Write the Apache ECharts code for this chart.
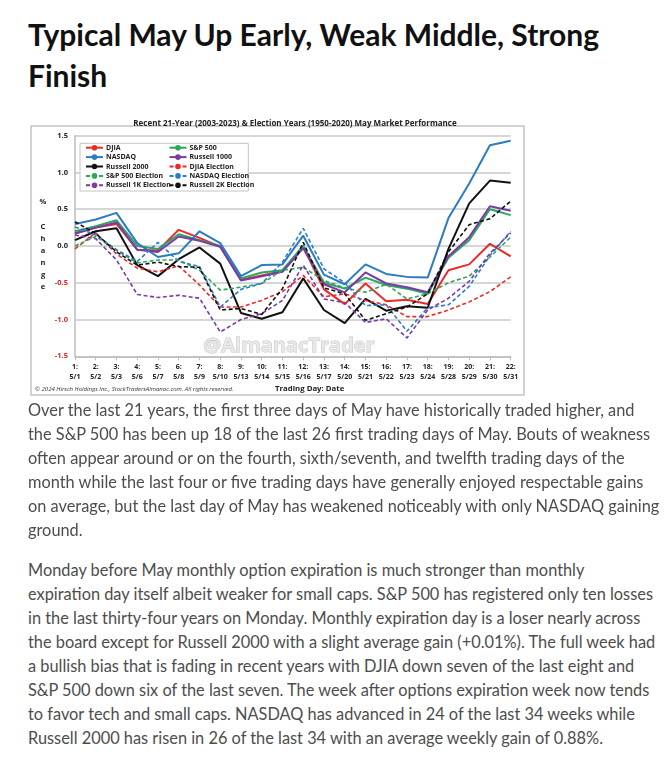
<!DOCTYPE html>
<html>
<head>
<meta charset="utf-8">
<script src="https://cdn.jsdelivr.net/npm/echarts@6/dist/echarts.min.js"></script>
<style>
  html, body { margin: 0; padding: 0; background: #fff; width: 665px; height: 760px; overflow: hidden; }
  #title { position: absolute; left: 28px; top: 14px; margin: 0; font-family: Lato, sans-serif; font-weight: 700; font-size: 30px; line-height: 41px; color: #111; white-space: nowrap; }
  .para { position: absolute; left: 28px; margin: 0; font-family: Lato, sans-serif; font-size: 16.35px; line-height: 24px; color: #4d4d4d; white-space: nowrap; }
  #chart { position: absolute; left: 0; top: 100px; width: 540px; height: 300px; }
</style>
</head>
<body>
<h1 id="title">Typical May Up Early, Weak Middle, Strong<br>Finish</h1>
<div id="chart"></div>
<p class="para" style="top:398px">Over the last 21 years, the first three days of May have historically traded higher, and<br>the S&amp;P 500 has been up 18 of the last 26 first trading days of May. Bouts of weakness<br>often appear around or on the fourth, sixth/seventh, and twelfth trading days of the<br>month while the last four or five trading days have generally enjoyed respectable gains<br>on average, but the last day of May has weakened noticeably with only NASDAQ gaining<br>ground.</p>
<p class="para" style="top:558px">Monday before May monthly option expiration is much stronger than monthly<br>expiration day itself albeit weaker for small caps. S&amp;P 500 has registered only ten losses<br>in the last thirty-four years on Monday. Monthly expiration day is a loser nearly across<br>the board except for Russell 2000 with a slight average gain (+0.01%). The full week had<br>a bullish bias that is fading in recent years with DJIA down seven of the last eight and<br>S&amp;P 500 down six of the last seven. The week after options expiration week now tends<br>to favor tech and small caps. NASDAQ has advanced in 24 of the last 34 weeks while<br>Russell 2000 has risen in 26 of the last 34 with an average weekly gain of 0.88%.</p>
<script>
const dayNums = [1,2,3,4,5,6,7,8,9,10,11,12,13,14,15,16,17,18,19,20,21,22];
const dayDates = ['5/1','5/2','5/3','5/6','5/7','5/8','5/9','5/10','5/13','5/14','5/15','5/16','5/17','5/20','5/21','5/22','5/23','5/24','5/28','5/29','5/30','5/31'];
const yTicks = [-1.5, -1.0, -0.5, 0.0, 0.5, 1.0, 1.5];

const djia      = [0.17, 0.25, 0.30, -0.05, -0.06, 0.22, 0.11, -0.01, -0.46, -0.40, -0.34, -0.01, -0.59, -0.79, -0.51, -0.75, -0.73, -0.79, -0.33, -0.25, 0.03, -0.14];
const sp500     = [0.20, 0.27, 0.35, 0.00, -0.04, 0.16, 0.08, 0.00, -0.44, -0.36, -0.33, 0.00, -0.50, -0.58, -0.43, -0.53, -0.58, -0.65, -0.16, 0.08, 0.50, 0.42];
const nasdaq    = [0.30, 0.36, 0.45, 0.04, -0.15, -0.10, 0.20, 0.04, -0.41, -0.26, -0.25, 0.14, -0.39, -0.52, -0.25, -0.38, -0.42, -0.43, 0.38, 0.85, 1.37, 1.43];
const russell1k = [0.17, 0.25, 0.32, -0.05, -0.08, 0.13, 0.07, -0.01, -0.47, -0.41, -0.35, -0.03, -0.52, -0.63, -0.36, -0.51, -0.56, -0.63, -0.14, 0.12, 0.54, 0.48];
const russell2k = [0.08, 0.20, 0.24, -0.26, -0.41, -0.18, -0.02, -0.24, -0.91, -0.99, -0.90, -0.44, -0.87, -1.05, -0.72, -0.88, -0.82, -0.84, -0.04, 0.58, 0.89, 0.86];
const djiaElec  = [-0.04, 0.18, -0.11, -0.30, -0.35, -0.27, -0.53, -0.83, -0.83, -0.74, -0.62, -0.40, -0.69, -0.65, -0.74, -0.80, -0.96, -0.96, -0.87, -0.76, -0.62, -0.42];
const spElec    = [0.00, 0.13, -0.06, -0.23, -0.19, -0.19, -0.33, -0.60, -0.56, -0.51, -0.33, -0.29, -0.47, -0.57, -0.63, -0.52, -0.72, -0.65, -0.50, -0.41, -0.15, 0.12];
const nasdaqElec= [0.26, 0.15, -0.05, -0.21, 0.05, -0.21, -0.28, -0.83, -0.59, -0.51, -0.22, 0.24, -0.31, -0.50, -0.81, -0.80, -1.16, -0.84, -0.80, -0.55, -0.13, 0.20];
const r1kElec   = [0.15, 0.10, -0.19, -0.66, -0.70, -0.67, -0.71, -1.17, -1.00, -0.92, -0.74, -0.26, -0.72, -0.77, -1.04, -0.99, -1.25, -0.87, -0.71, -0.48, -0.10, 0.18];
const r2kElec   = [0.33, 0.17, -0.08, -0.26, -0.22, -0.28, -0.29, -0.87, -0.85, -0.93, -0.58, 0.05, -0.57, -0.65, -1.01, -0.92, -0.83, -0.65, -0.08, 0.29, 0.37, 0.61];

const seriesNames = ['DJIA','S&P 500','NASDAQ','Russell 1000','Russell 2000','DJIA Election','S&P 500 Election','NASDAQ Election','Russell 1K Election','Russell 2K Election'];
const seriesData = [djia, sp500, nasdaq, russell1k, russell2k, djiaElec, spElec, nasdaqElec, r1kElec, r2kElec];
const seriesColors = ['#ec2a2a','#27a85a','#2b7cc4','#7b3aa6','#111111','#ec2a2a','#27a85a','#2b7cc4','#7b3aa6','#111111'];
const seriesDashed = [false,false,false,false,false,true,true,true,true,true];

const categories = dayNums.map((d, i) => d + ':\n' + dayDates[i]);

const chart = echarts.init(document.getElementById('chart'), null, {renderer: 'canvas'});
const FONT = '"Open Sans", "Noto Sans", sans-serif';

const series = seriesNames.map((name, i) => ({
  name: name,
  type: 'line',
  data: seriesData[i],
  symbol: 'none',
  z: 2,
  lineStyle: { color: seriesColors[i], width: seriesDashed[i] ? 1.6 : 2, type: seriesDashed[i] ? [4, 2.5] : 'solid' },
  itemStyle: { color: seriesColors[i] },
  animation: false
}));

const legendCommon = {
  orient: 'vertical', itemWidth: 17, itemHeight: 7, itemGap: 2.4, padding: 0, z: 10,
  textStyle: { fontFamily: FONT, fontSize: 7, fontWeight: 'bold', color: '#222', padding: [0,0,0,-2] },
  selectedMode: false
};
const legendLeft = ['DJIA','NASDAQ','Russell 2000','S&P 500 Election','Russell 1K Election'];
const legendRight = ['S&P 500','Russell 1000','DJIA Election','NASDAQ Election','Russell 2K Election'];

chart.setOption({
  animation: false,
  backgroundColor: '#fff',
  title: {
    text: 'Recent 21-Year (2003-2023) & Election Years (1950-2020) May Market Performance',
    left: 290, top: 15, textAlign: 'center',
    textStyle: { fontFamily: FONT, fontSize: 8, fontWeight: 'bold', color: '#222' }
  },
  grid: { left: 75, top: 35.7, width: 435.7, height: 220.6, containLabel: false },
  legend: [
    Object.assign({ left: 85, top: 44.2, data: legendLeft }, legendCommon),
    Object.assign({ left: 168.5, top: 44.2, data: legendRight }, legendCommon)
  ],
  xAxis: {
    type: 'category', data: categories, boundaryGap: false,
    axisLine: { onZero: false, lineStyle: { color: '#bdbdbd', width: 1.5 } },
    axisTick: { show: true, length: 4, lineStyle: { color: '#bdbdbd' } },
    axisLabel: { interval: 0, fontFamily: FONT, fontSize: 7, fontWeight: 'bold', color: '#222', lineHeight: 10, margin: 6 },
    splitLine: { show: false }
  },
  yAxis: {
    type: 'value', min: yTicks[0], max: yTicks[yTicks.length - 1], interval: 0.5,
    axisLine: { show: true, lineStyle: { color: '#bdbdbd', width: 1.5 } },
    axisTick: { show: false },
    axisLabel: {
      fontFamily: FONT, fontSize: 7.5, fontWeight: 'bold', margin: 7,
      formatter: v => v.toFixed(1),
      color: v => (v < 0 ? '#e02020' : '#222')
    },
    splitLine: { lineStyle: { color: '#c9c9c9', width: 1.5 } }
  },
  graphic: [
    { type: 'rect', silent: true, z: -10, shape: { x: 31, y: 26, width: 493, height: 269 }, style: { fill: 'none', stroke: '#c4c4c4', lineWidth: 1.5 } },
    { type: 'text', silent: true, z: 1, x: 289, y: 246, style: { text: '@AlmanacTrader', font: 'bold 20px "Open Sans", sans-serif', fill: '#e8e8e8', stroke: '#c2c2c2', lineWidth: 0.9, align: 'center', verticalAlign: 'middle' } },
    { type: 'rect', silent: true, z: 5, shape: { x: 80, y: 43.3, width: 168.3, height: 47.7 }, style: { fill: '#fff', stroke: '#c4c4c4', lineWidth: 1 } },
    { type: 'text', silent: true, z: 5, x: 43, y: 96.2, style: { text: '%\n\nC\nh\na\nn\ng\ne', font: 'bold 7.5px "Open Sans", sans-serif', fill: '#222', align: 'center', lineHeight: 12.1 } },
    { type: 'text', silent: true, z: 5, x: 35, y: 289, style: { text: '\u00A9 2024 Hirsch Holdings Inc., StockTradersAlmanac.com. All rights reserved.', font: 'italic 6px "Open Sans", sans-serif', fill: '#333', verticalAlign: 'middle' } },
    { type: 'text', silent: true, z: 5, x: 275, y: 289, style: { text: 'Trading Day: Date', font: 'bold 7.8px "Open Sans", sans-serif', fill: '#222', verticalAlign: 'middle' } }
  ],
  series: series
});
</script>
</body>
</html>
